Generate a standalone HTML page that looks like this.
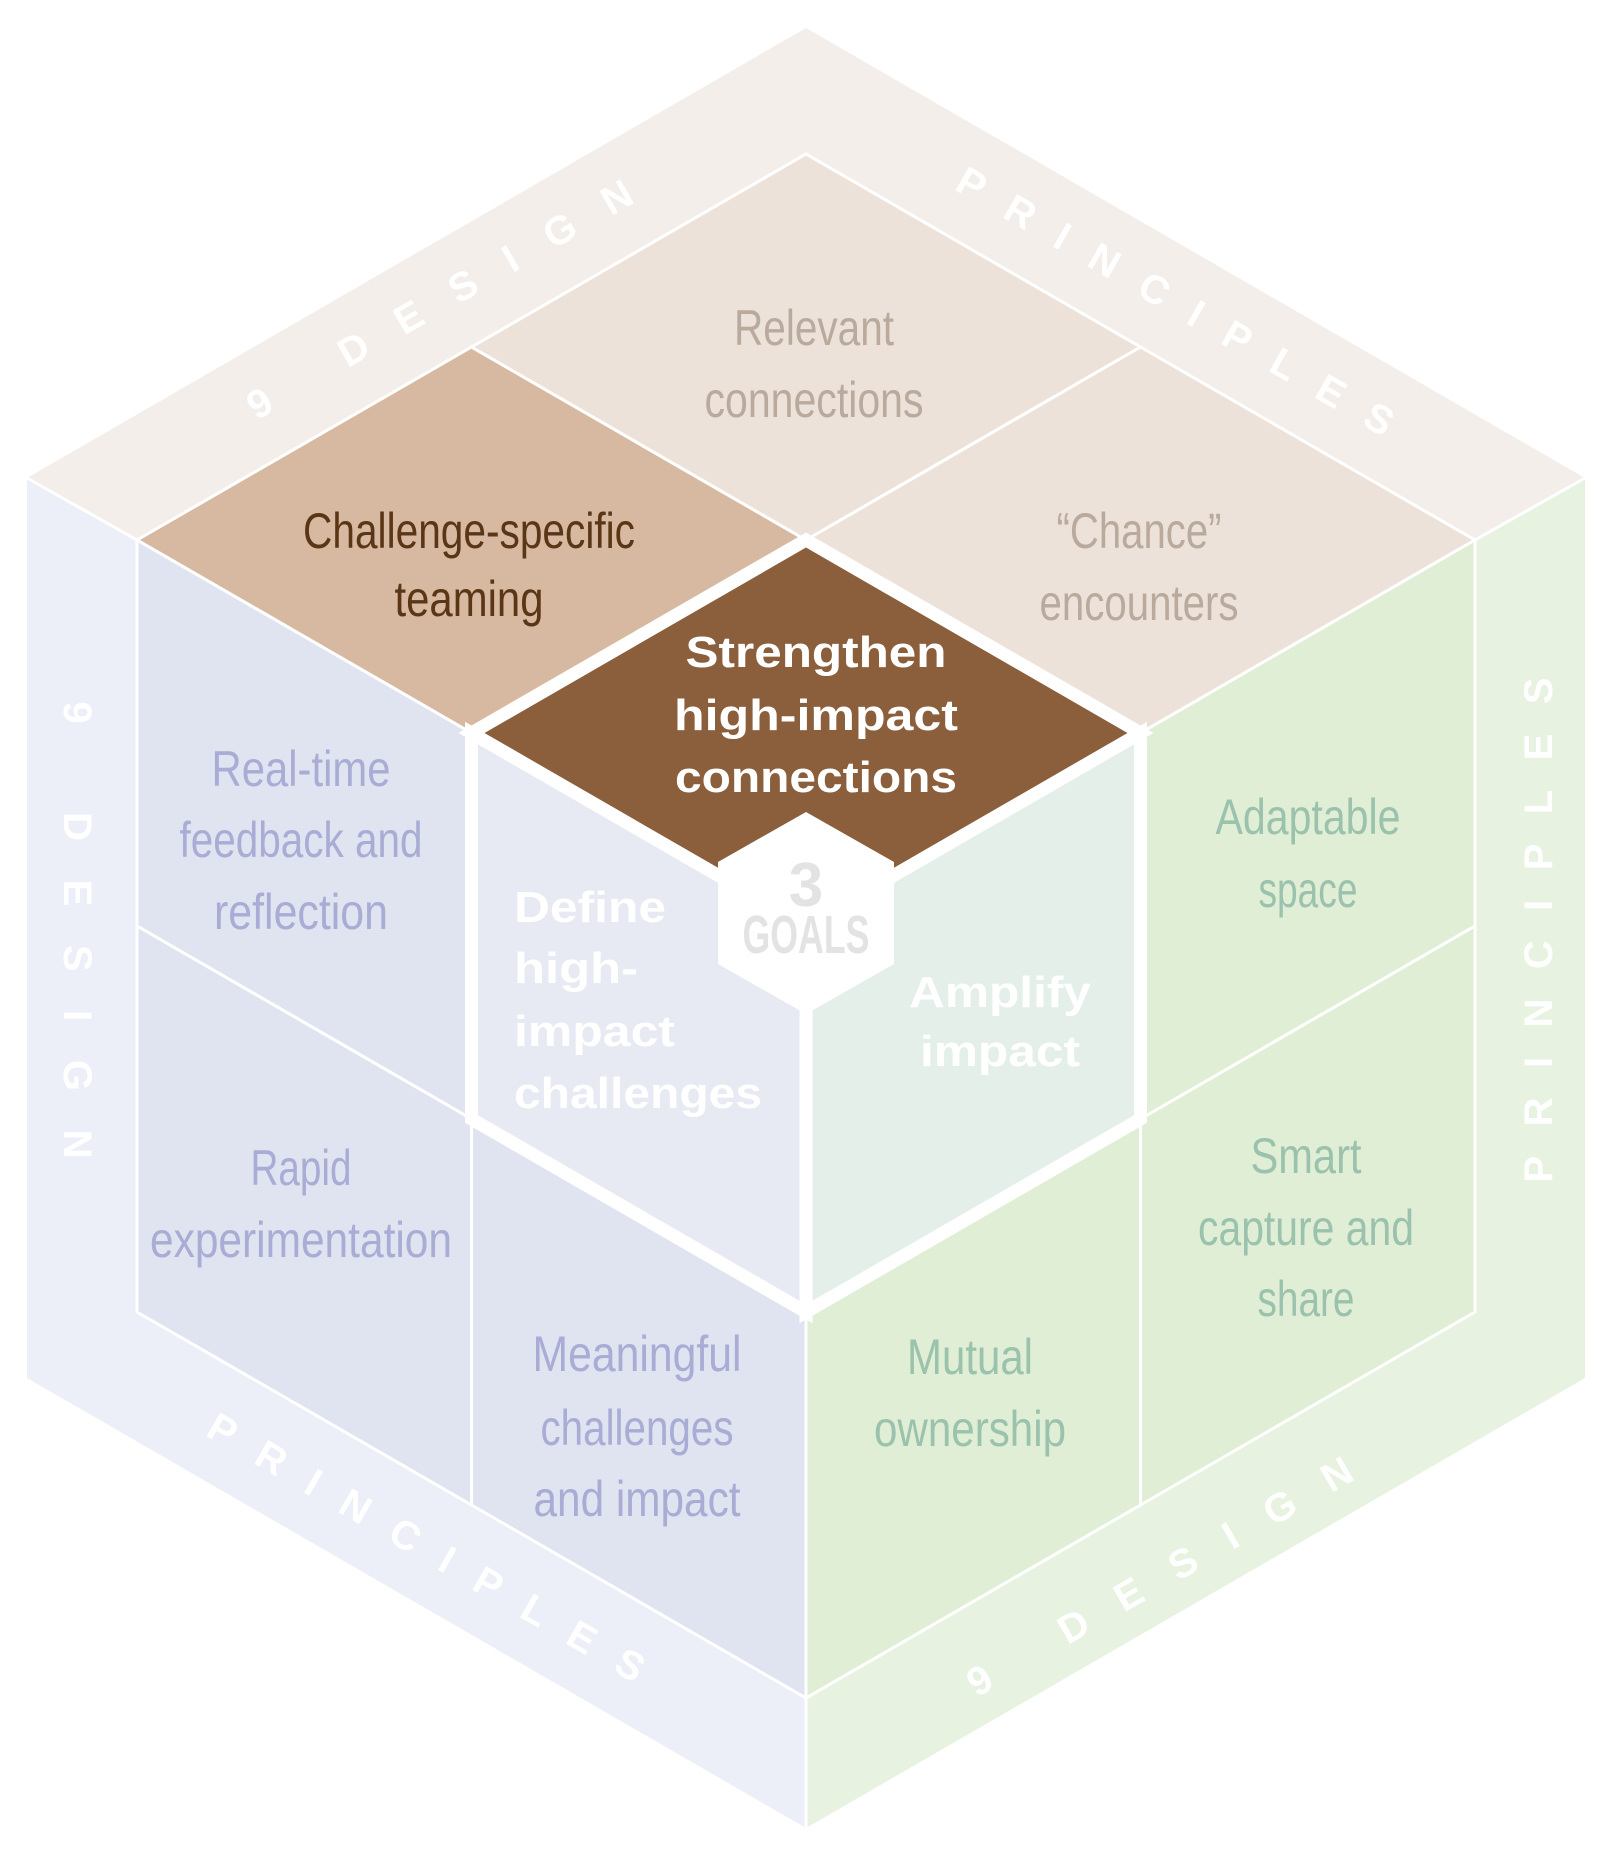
<!DOCTYPE html>
<html><head><meta charset="utf-8"><style>
html,body{margin:0;padding:0;background:#fff;}
svg{display:block;}
.t{font-family:"Liberation Sans Narrow","Liberation Sans",sans-serif;font-size:50px;text-anchor:middle;}
.g{font-family:"Liberation Sans",sans-serif;font-weight:bold;font-size:44px;fill:#fff;}
.b{font-family:"Liberation Sans",sans-serif;font-weight:bold;font-size:40px;fill:#fff;text-anchor:middle;dominant-baseline:central;}
</style></head><body>
<svg width="1612" height="1854" viewBox="0 0 1612 1854" xmlns="http://www.w3.org/2000/svg">
<polygon points="806,28 27,478 806,928 1585,478" fill="#f3eeea"/>
<polygon points="27,478 27,1378 806,1828 806,928" fill="#eceff7"/>
<polygon points="1585,478 1585,1378 806,1828 806,928" fill="#e8f2e0"/>
<g stroke="#fff" stroke-width="3">
<line x1="27" y1="478" x2="137" y2="540"/>
<line x1="1585" y1="478" x2="1475" y2="540"/>
<line x1="806" y1="1828" x2="806" y2="1698"/>
</g>
<g stroke="#fff" stroke-width="3" stroke-linejoin="miter">
<polygon points="471.5,347 806,540 471.5,733 137,540" fill="#d6b9a0"/>
<polygon points="806,154 1140.5,347 806,540 471.5,347" fill="#ede2d9"/>
<polygon points="1140.5,347 1475,540 1140.5,733 806,540" fill="#ede2d9"/>
<polygon points="137,540 471.5,733 471.5,1119 137,926" fill="#dfe4f0"/>
<polygon points="137,926 471.5,1119 471.5,1505 137,1312" fill="#dfe4f0"/>
<polygon points="471.5,1119 806,1312 806,1698 471.5,1505" fill="#dfe4f0"/>
<polygon points="1140.5,733 1475,540 1475,926 1140.5,1119" fill="#e0eed6"/>
<polygon points="1140.5,1119 1475,926 1475,1312 1140.5,1505" fill="#e0eed6"/>
<polygon points="806,1312 1140.5,1119 1140.5,1505 806,1698" fill="#e0eed6"/>
</g>
<g stroke="#fff" stroke-width="13" stroke-linejoin="miter">
<polygon points="471.5,733 806,926 806,1312 471.5,1119" fill="#e7e9f3"/>
<polygon points="806,926 1140.5,733 1140.5,1119 806,1312" fill="#e5efea"/>
<polygon points="806,540 1140.5,733 806,926 471.5,733" fill="#8b5e3c"/>
</g>
<polygon points="806,812 894,862 894,964 806,1014 718,964 718,862" fill="#fff"/>
<g class="t" fill="#b9aa9d">
<text x="814" y="345" textLength="160" lengthAdjust="spacingAndGlyphs">Relevant</text>
<text x="814" y="417" textLength="219" lengthAdjust="spacingAndGlyphs">connections</text>
<text x="1139" y="548" textLength="165" lengthAdjust="spacingAndGlyphs">“Chance”</text>
<text x="1139" y="620" textLength="199" lengthAdjust="spacingAndGlyphs">encounters</text>
</g>
<g class="t" fill="#5a3616">
<text x="469" y="548" textLength="332" lengthAdjust="spacingAndGlyphs">Challenge-specific</text>
<text x="469" y="616" textLength="149" lengthAdjust="spacingAndGlyphs">teaming</text>
</g>
<g class="g" text-anchor="middle">
<text x="816" y="667" textLength="261" lengthAdjust="spacingAndGlyphs">Strengthen</text>
<text x="816" y="730" textLength="284" lengthAdjust="spacingAndGlyphs">high-impact</text>
<text x="816" y="792" textLength="282" lengthAdjust="spacingAndGlyphs">connections</text>
<text x="1000" y="1007" textLength="182" lengthAdjust="spacingAndGlyphs">Amplify</text>
<text x="1000" y="1066" textLength="160" lengthAdjust="spacingAndGlyphs">impact</text>
</g>
<g class="g">
<text x="514" y="922" textLength="152" lengthAdjust="spacingAndGlyphs">Define</text>
<text x="514" y="983" textLength="124" lengthAdjust="spacingAndGlyphs">high-</text>
<text x="514" y="1046" textLength="161" lengthAdjust="spacingAndGlyphs">impact</text>
<text x="514" y="1108" textLength="248" lengthAdjust="spacingAndGlyphs">challenges</text>
</g>
<g font-family="Liberation Sans Narrow,Liberation Sans,sans-serif" font-weight="bold" fill="#e3e3e3" text-anchor="middle">
<text x="806" y="906" font-size="62">3</text>
<text x="806" y="953" font-size="54" textLength="127" lengthAdjust="spacingAndGlyphs">GOALS</text>
</g>
<g class="t" fill="#a9acd4">
<text x="301" y="786" textLength="179" lengthAdjust="spacingAndGlyphs">Real-time</text>
<text x="301" y="857" textLength="243" lengthAdjust="spacingAndGlyphs">feedback and</text>
<text x="301" y="929" textLength="174" lengthAdjust="spacingAndGlyphs">reflection</text>
<text x="301" y="1185" textLength="101" lengthAdjust="spacingAndGlyphs">Rapid</text>
<text x="301" y="1257" textLength="302" lengthAdjust="spacingAndGlyphs">experimentation</text>
<text x="637" y="1371" textLength="209" lengthAdjust="spacingAndGlyphs">Meaningful</text>
<text x="637" y="1445" textLength="193" lengthAdjust="spacingAndGlyphs">challenges</text>
<text x="637" y="1516" textLength="207" lengthAdjust="spacingAndGlyphs">and impact</text>
</g>
<g class="t" fill="#9bc2ad">
<text x="1308" y="834" textLength="185" lengthAdjust="spacingAndGlyphs">Adaptable</text>
<text x="1308" y="907" textLength="99" lengthAdjust="spacingAndGlyphs">space</text>
<text x="1306" y="1173" textLength="111" lengthAdjust="spacingAndGlyphs">Smart</text>
<text x="1306" y="1245" textLength="216" lengthAdjust="spacingAndGlyphs">capture and</text>
<text x="1306" y="1316" textLength="97" lengthAdjust="spacingAndGlyphs">share</text>
<text x="970" y="1374" textLength="126" lengthAdjust="spacingAndGlyphs">Mutual</text>
<text x="970" y="1446" textLength="192" lengthAdjust="spacingAndGlyphs">ownership</text>
</g>
<text class="b" transform="translate(440,300) rotate(-30)" textLength="438" lengthAdjust="spacing">9 DESIGN</text>
<text class="b" transform="translate(1175,302) rotate(30)" textLength="497" lengthAdjust="spacing">PRINCIPLES</text>
<text class="b" transform="translate(77,930) rotate(90)" textLength="457" lengthAdjust="spacing">9 DESIGN</text>
<text class="b" transform="translate(1539,930) rotate(-90)" textLength="505" lengthAdjust="spacing">PRINCIPLES</text>
<text class="b" transform="translate(426,1548) rotate(30)" textLength="497" lengthAdjust="spacing">PRINCIPLES</text>
<text class="b" transform="translate(1160,1577) rotate(-30)" textLength="438" lengthAdjust="spacing">9 DESIGN</text>
</svg>
</body></html>
